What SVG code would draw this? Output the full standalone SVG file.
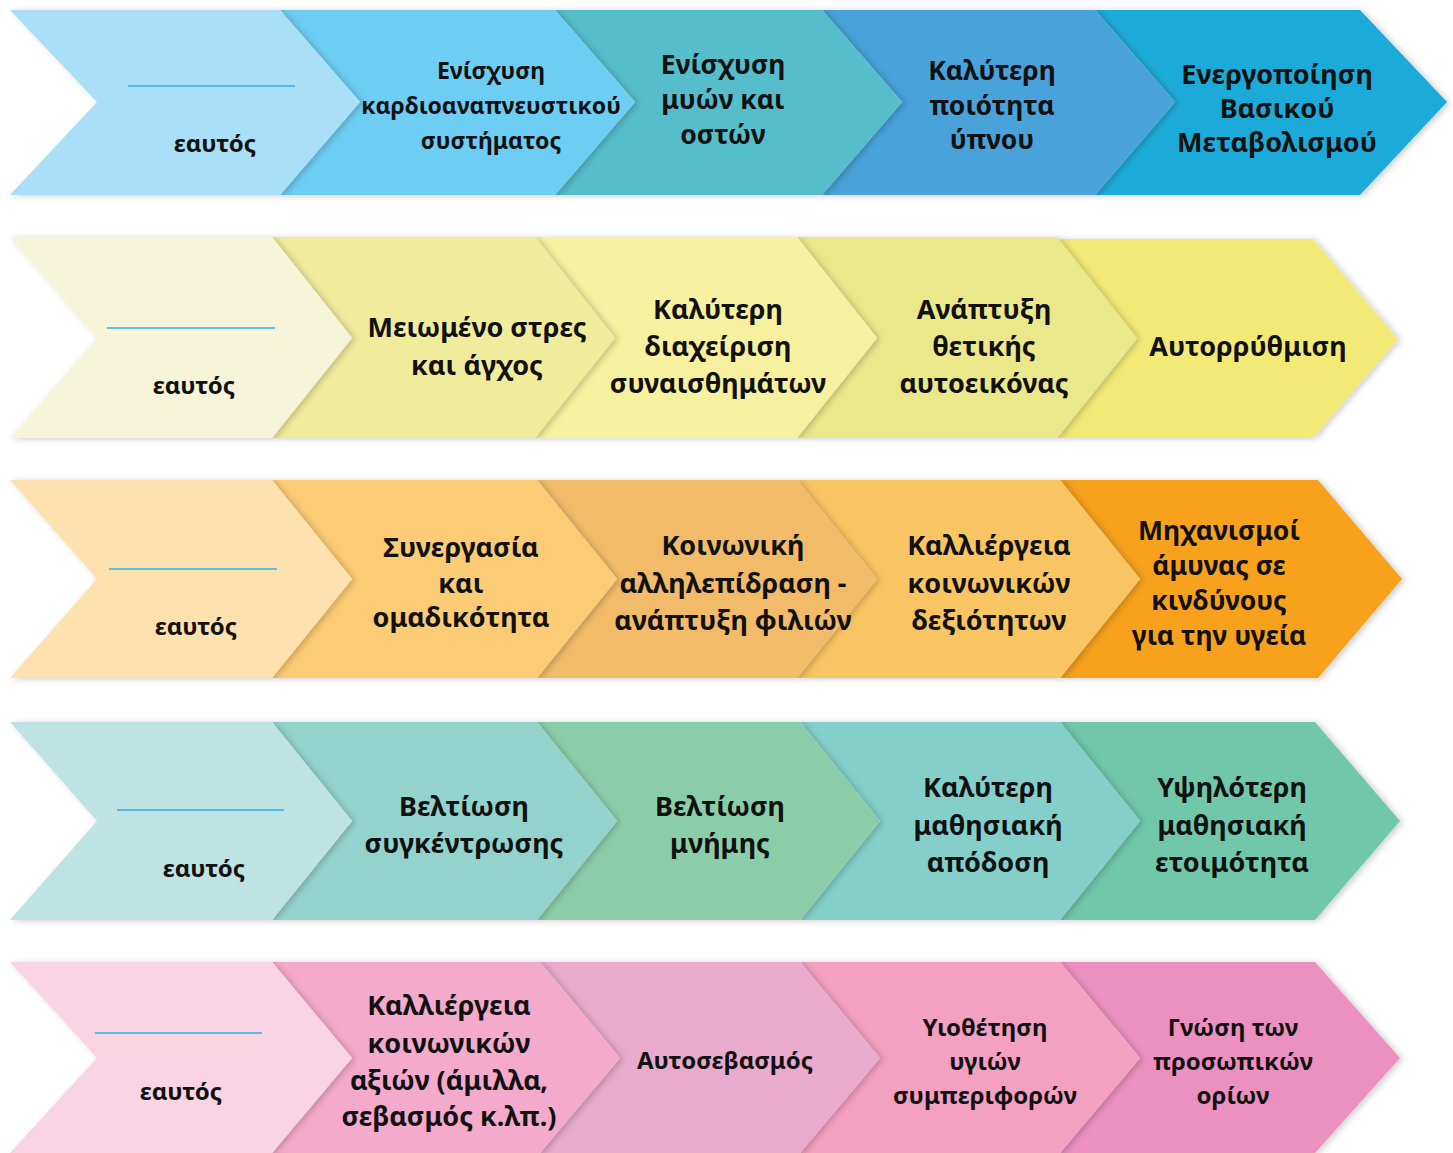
<svg xmlns="http://www.w3.org/2000/svg" width="1453" height="1153" viewBox="0 0 1453 1153">
<defs>
<filter id="sh" x="-10%" y="-10%" width="120%" height="120%">
<feDropShadow dx="3" dy="1" stdDeviation="3" flood-color="#000" flood-opacity="0.2"/>
</filter>
</defs>
<style>
text{font-family:"Noto Sans","DejaVu Sans",sans-serif;font-weight:700;fill:#111;text-anchor:middle;dominant-baseline:central;}
.t26{font-size:27px;}
.t25{font-size:26.5px;}
.t23{font-size:23px;}
.t22{font-size:24px;}
.ul{stroke:#2fb0e6;stroke-width:1.6;}
.ch{filter:url(#sh);}
</style>
<rect width="1453" height="1153" fill="#fff"/>

<!-- Row 1 -->
<g id="row1">
<g id="r1c5"><polygon class="ch" fill="#1fabd8" points="1095,10 1360,10 1447,102 1360,195 1095,195 1175,102"/>
<text class="t26" x="1277" y="73">Ενεργοποίηση</text><text class="t26" x="1277" y="107">Βασικού</text><text class="t26" x="1277" y="141">Μεταβολισμού</text></g>
<g id="r1c4"><polygon class="ch" fill="#4aa2da" points="822,10 1095,10 1175,102 1095,195 822,195 902,102"/>
<text class="t25" x="992" y="70">Καλύτερη</text><text class="t25" x="992" y="105">ποιότητα</text><text class="t25" x="992" y="139">ύπνου</text></g>
<g id="r1c3"><polygon class="ch" fill="#56bdca" points="555,10 822,10 902,102 822,195 555,195 635,102"/>
<text class="t25" x="723" y="64">Ενίσχυση</text><text class="t25" x="723" y="99">μυών και</text><text class="t25" x="723" y="134">οστών</text></g>
<g id="r1c2"><polygon class="ch" fill="#6dcdf2" points="280,10 555,10 635,102 555,195 280,195 360,102"/>
<text class="t23" x="491" y="70">Ενίσχυση</text><text class="t23" x="491" y="105">καρδιοαναπνευστικού</text><text class="t23" x="491" y="140">συστήματος</text></g>
<g id="r1c1"><polygon class="ch" fill="#a9dff7" points="10,10 280,10 360,102 280,195 10,195 97,102"/>
<line class="ul" x1="128" y1="86" x2="295" y2="86"/>
<text class="t22" x="215" y="142">εαυτός</text></g>
</g>

<!-- Row 2 -->
<g id="row2">
<g id="r2c5"><polygon class="ch" fill="#f3e977" points="1057,239 1313,239 1398,339 1313,438 1057,438 1137,339"/>
<text class="t26" x="1248" y="345">Αυτορρύθμιση</text></g>
<g id="r2c4"><polygon class="ch" fill="#ebe88b" points="797,237 1057,237 1137,338 1057,438 797,438 877,338"/>
<text class="t26" x="984" y="308">Ανάπτυξη</text><text class="t26" x="984" y="345">θετικής</text><text class="t26" x="984" y="382">αυτοεικόνας</text></g>
<g id="r2c3"><polygon class="ch" fill="#f6f09f" points="535,237 797,237 877,338 797,438 535,438 615,338"/>
<text class="t26" x="718" y="308">Καλύτερη</text><text class="t26" x="718" y="345">διαχείριση</text><text class="t26" x="718" y="382">συναισθημάτων</text></g>
<g id="r2c2"><polygon class="ch" fill="#f1eb9c" points="272,237 535,237 615,338 535,438 272,438 352,338"/>
<text class="t26" x="477" y="326">Μειωμένο στρες</text><text class="t26" x="477" y="364">και άγχος</text></g>
<g id="r2c1"><polygon class="ch" fill="#f6f5da" points="10,237 272,237 352,338 272,438 10,438 97,338"/>
<line class="ul" x1="107" y1="328" x2="275" y2="328"/>
<text class="t22" x="194" y="384">εαυτός</text></g>
</g>

<!-- Row 3 -->
<g id="row3">
<g id="r3c5"><polygon class="ch" fill="#f7a11c" points="1060,480 1318,480 1402,579 1318,678 1060,678 1140,579"/>
<text class="t25" x="1219" y="530">Μηχανισμοί</text><text class="t25" x="1219" y="565">άμυνας σε</text><text class="t25" x="1219" y="600">κινδύνους</text><text class="t25" x="1219" y="635">για την υγεία</text></g>
<g id="r3c4"><polygon class="ch" fill="#f9c462" points="797,480 1060,480 1140,579 1060,678 797,678 877,579"/>
<text class="t26" x="989" y="544">Καλλιέργεια</text><text class="t26" x="989" y="582">κοινωνικών</text><text class="t26" x="989" y="619">δεξιότητων</text></g>
<g id="r3c3"><polygon class="ch" fill="#f1bb6b" points="537,480 797,480 877,579 797,678 537,678 617,579"/>
<text class="t26" x="733" y="544">Κοινωνική</text><text class="t26" x="733" y="582">αλληλεπίδραση -</text><text class="t26" x="733" y="619">ανάπτυξη φιλιών</text></g>
<g id="r3c2"><polygon class="ch" fill="#fccb74" points="272,480 537,480 617,579 537,678 272,678 352,579"/>
<text class="t26" x="461" y="546">Συνεργασία</text><text class="t26" x="461" y="582">και</text><text class="t26" x="461" y="616">ομαδικότητα</text></g>
<g id="r3c1"><polygon class="ch" fill="#fde1ae" points="10,480 272,480 352,579 272,678 10,678 97,579"/>
<line class="ul" x1="109" y1="569" x2="277" y2="569"/>
<text class="t22" x="196" y="625">εαυτός</text></g>
</g>

<!-- Row 4 -->
<g id="row4">
<g id="r4c5"><polygon class="ch" fill="#70c7aa" points="1060,722 1315,722 1400,821 1315,920 1060,920 1140,821"/>
<text class="t26" x="1232" y="786">Υψηλότερη</text><text class="t26" x="1232" y="824">μαθησιακή</text><text class="t26" x="1232" y="861">ετοιμότητα</text></g>
<g id="r4c4"><polygon class="ch" fill="#84cfca" points="800,722 1060,722 1140,821 1060,920 800,920 880,821"/>
<text class="t26" x="988" y="786">Καλύτερη</text><text class="t26" x="988" y="824">μαθησιακή</text><text class="t26" x="988" y="861">απόδοση</text></g>
<g id="r4c3"><polygon class="ch" fill="#8ccda9" points="537,722 800,722 880,821 800,920 537,920 617,821"/>
<text class="t26" x="720" y="805">Βελτίωση</text><text class="t26" x="720" y="842">μνήμης</text></g>
<g id="r4c2"><polygon class="ch" fill="#93d3cb" points="272,722 537,722 617,821 537,920 272,920 352,821"/>
<text class="t26" x="464" y="805">Βελτίωση</text><text class="t26" x="464" y="842">συγκέντρωσης</text></g>
<g id="r4c1"><polygon class="ch" fill="#bee3e2" points="10,722 272,722 352,821 272,920 10,920 97,821"/>
<line class="ul" x1="117" y1="810" x2="284" y2="810"/>
<text class="t22" x="204" y="867">εαυτός</text></g>
</g>

<!-- Row 5 -->
<g id="row5">
<g id="r5c5"><polygon class="ch" fill="#ec91bf" points="1060,962 1315,962 1400,1058 1315,1153 1060,1153 1140,1058"/>
<text class="t22" x="1233" y="1026">Γνώση των</text><text class="t22" x="1233" y="1060">προσωπικών</text><text class="t22" x="1233" y="1094">ορίων</text></g>
<g id="r5c4"><polygon class="ch" fill="#f4a0c1" points="800,962 1060,962 1140,1058 1060,1153 800,1153 880,1058"/>
<text class="t22" x="985" y="1026">Υιοθέτηση</text><text class="t22" x="985" y="1060">υγιών</text><text class="t22" x="985" y="1094">συμπεριφορών</text></g>
<g id="r5c3"><polygon class="ch" fill="#e9aacb" points="540,962 800,962 880,1058 800,1153 540,1153 620,1058"/>
<text class="t22" x="725" y="1059">Αυτοσεβασμός</text></g>
<g id="r5c2"><polygon class="ch" fill="#f4aaca" points="272,962 540,962 620,1058 540,1153 272,1153 352,1058"/>
<text class="t26" x="449" y="1004">Καλλιέργεια</text><text class="t26" x="449" y="1042">κοινωνικών</text><text class="t26" x="449" y="1079">αξιών (άμιλλα,</text><text class="t26" x="449" y="1115">σεβασμός κ.λπ.)</text></g>
<g id="r5c1"><polygon class="ch" fill="#f9d4e3" points="10,962 272,962 352,1058 272,1153 10,1153 97,1058"/>
<line class="ul" x1="95" y1="1033" x2="262" y2="1033"/>
<text class="t22" x="181" y="1090">εαυτός</text></g>
</g>
</svg>
